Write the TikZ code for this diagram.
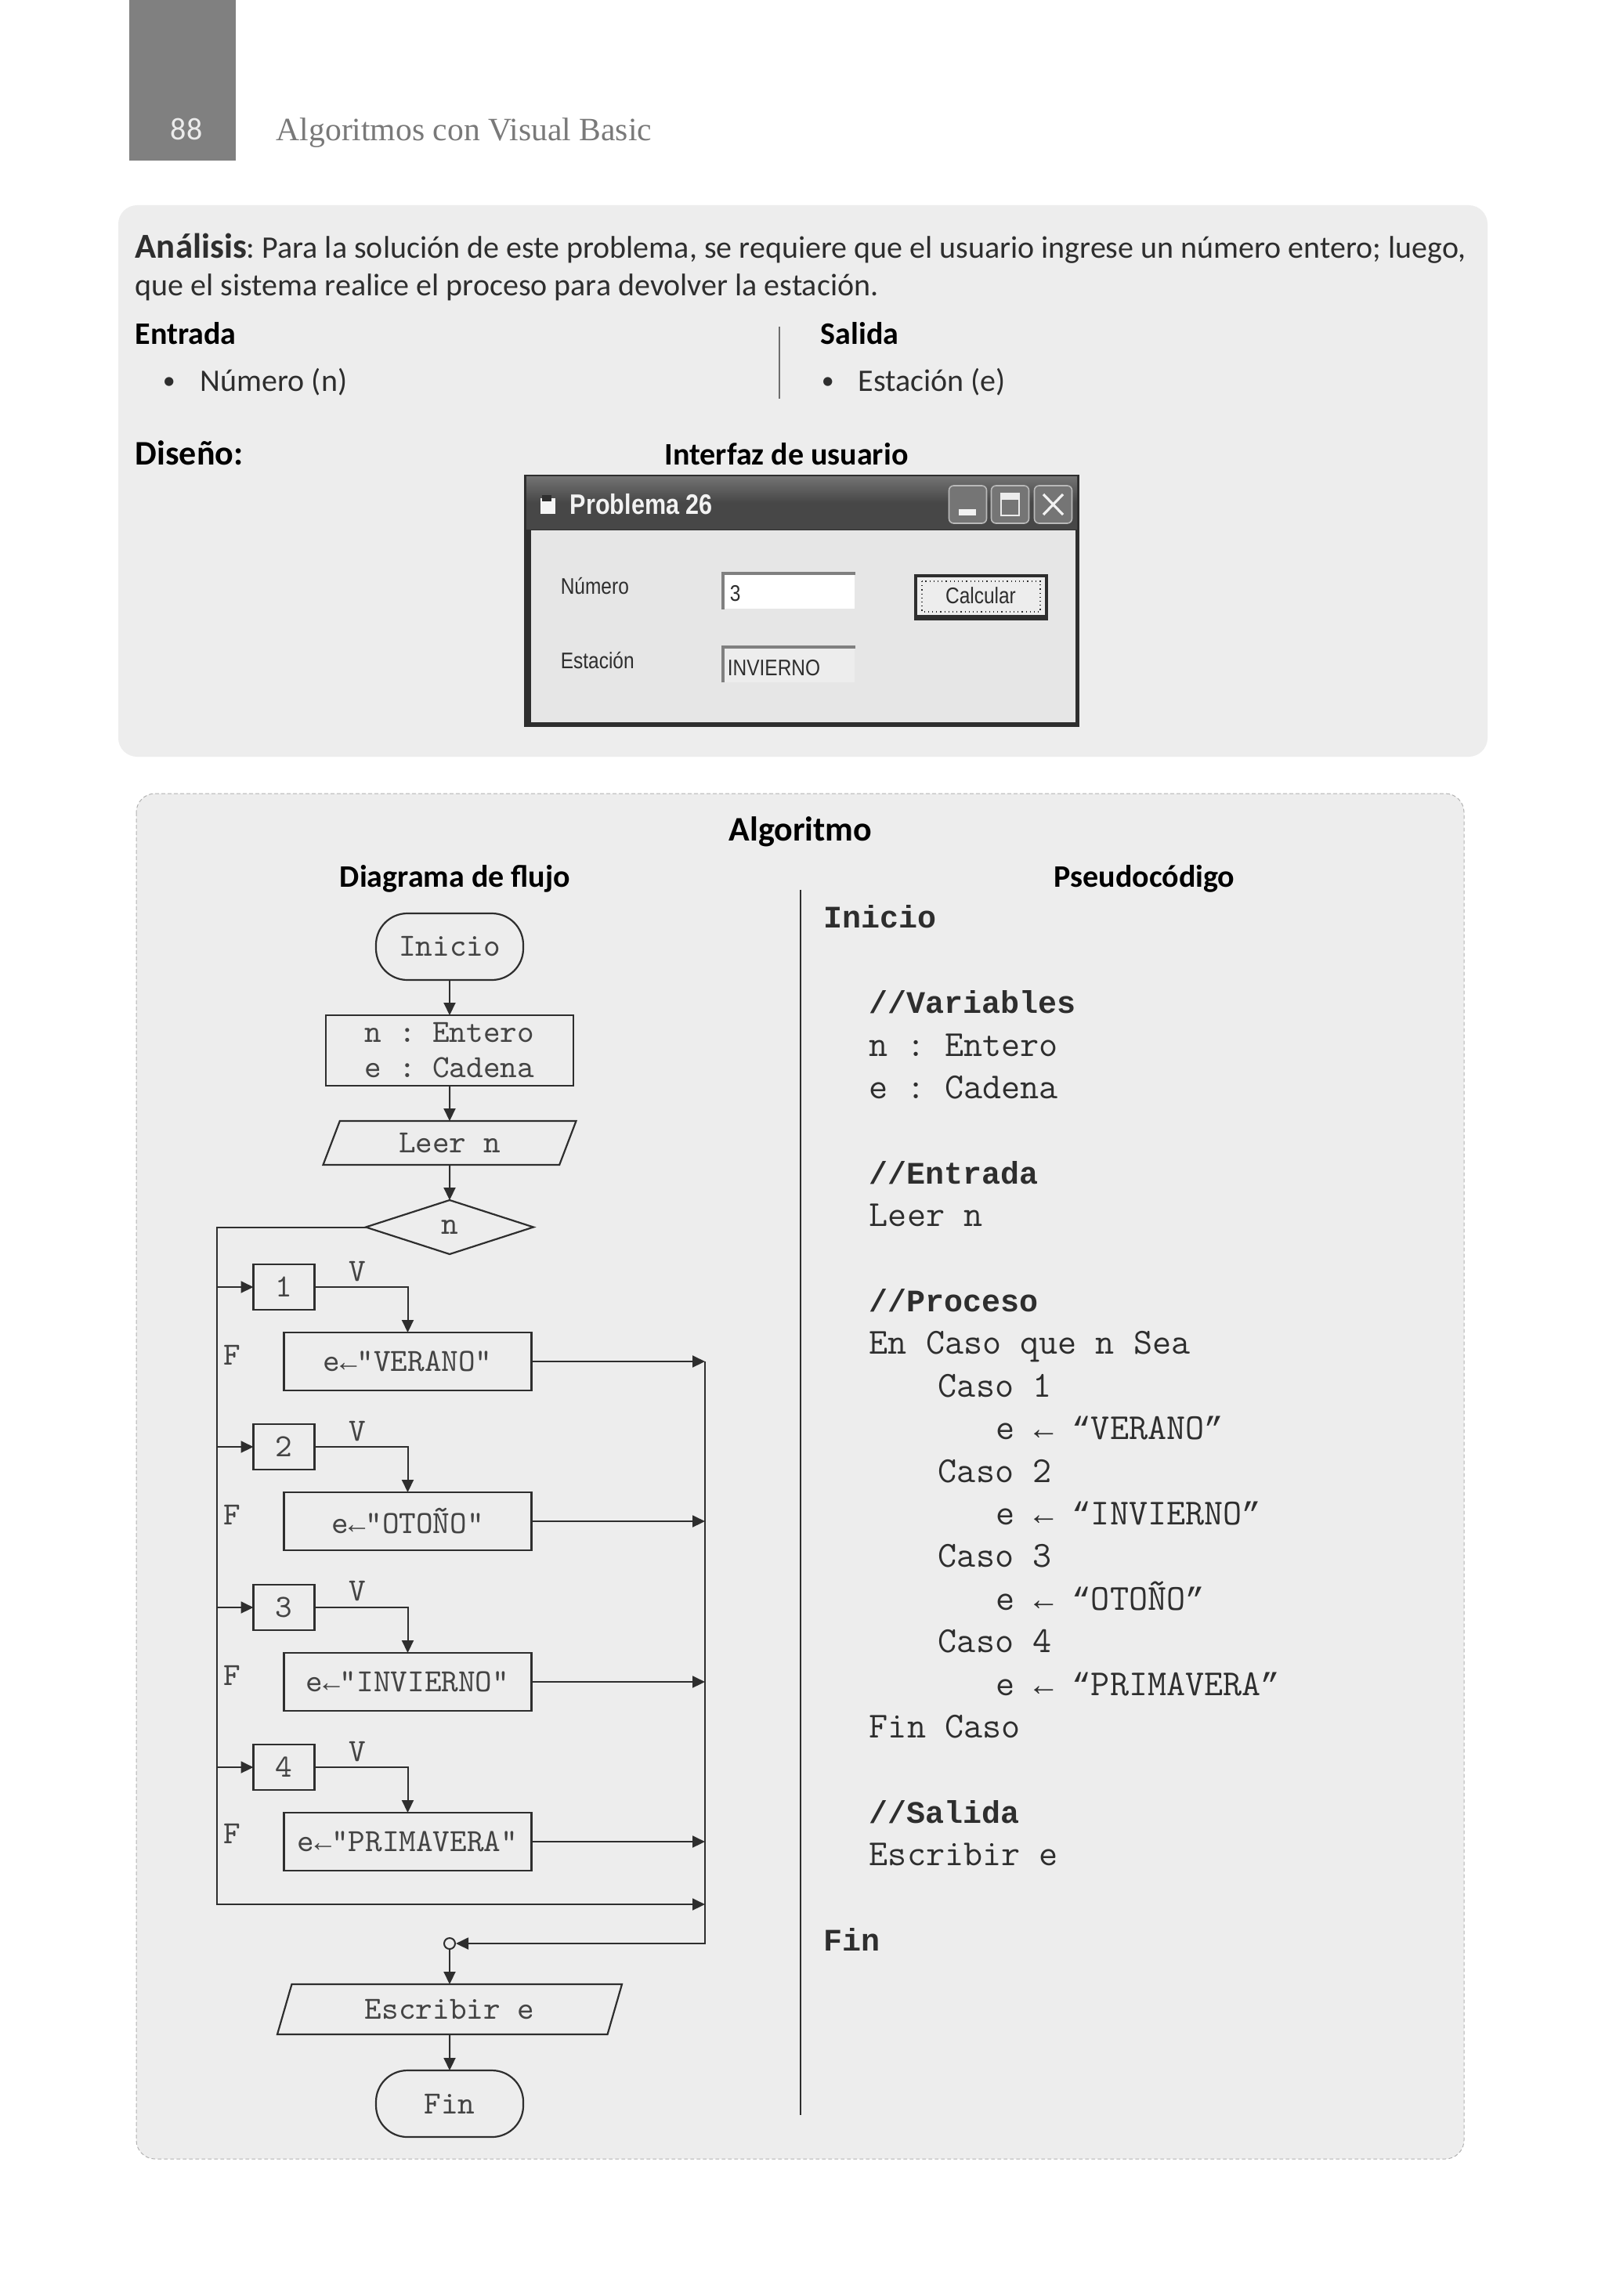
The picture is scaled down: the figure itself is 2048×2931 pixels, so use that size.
\documentclass[tikz,border=0pt]{standalone}
\usepackage{fontspec}
\usepackage{xcolor}
\usepackage{tikz}
\usetikzlibrary{arrows.meta,positioning,shapes.geometric}
\setmainfont{Carlito}
\newfontfamily\arrowfont[Scale=0.87]{Liberation Mono}
\newfontfamily\boldcode[Scale=0.855]{Liberation Mono}
\newfontfamily\headfont{Liberation Serif}
\newfontfamily\winfont[FakeStretch=0.85]{Liberation Sans}
\newcommand{\asig}{{\arrowfont ←}}
\newcommand{\quoted}[1]{{\arrowfont “}#1{\arrowfont ”}}
\newcommand{\codebold}[1]{{\boldcode\bfseries #1}}
\definecolor{panelbg}{HTML}{EDEDED}
\definecolor{barbg}{HTML}{808080}
\definecolor{ink}{HTML}{2E2E2E}
\definecolor{flowtext}{HTML}{444444}
\definecolor{titledark}{HTML}{474747}
\definecolor{clientbg}{HTML}{E6E6E6}

\begin{document}
\frenchspacing
\begin{tikzpicture}[
  x=0.25pt, y=-0.25pt,
  node distance=11.25pt,
  bodytext/.style={inner sep=0pt, anchor=base west, text=ink, font=\fontsize{10}{12.3}\selectfont},
  headtext/.style={inner sep=0pt, anchor=base west, text=black, font=\fontsize{10}{12.3}\selectfont\bfseries},
  headmid/.style={headtext, anchor=base},
  flowbox/.style={draw=ink, line width=0.55pt, inner sep=0pt, outer sep=0pt, align=center,
                  text=flowtext, font=\ttfamily\fontsize{10.3}{11.25}\selectfont},
  oval/.style={flowbox, rounded corners=10pt, minimum width=47pt, minimum height=21.25pt},
  slant/.style={flowbox, trapezium, trapezium stretches body=true},
  casebox/.style={flowbox, minimum width=19.5pt, minimum height=14.5pt},
  setbox/.style={flowbox, minimum width=79pt, minimum height=18.5pt},
  tag/.style={inner sep=0pt, text=flowtext, font=\ttfamily\fontsize{10.3}{11}\selectfont},
  arr/.style={-{Triangle[length=4pt,width=3.75pt]}, draw=ink, line width=0.5pt},
  wintext/.style={inner sep=0pt, anchor=base west, text=ink, font=\winfont\fontsize{7.2}{8}\selectfont},
  winbtn/.style={draw=gray!55, line width=0.4pt, rounded corners=1.5pt, fill=titledark!75!white,
                 minimum width=12pt, minimum height=12pt, inner sep=0pt},
  field/.style={inner sep=0pt, minimum width=41.75pt, minimum height=11pt}
]
\useasboundingbox (0,0) rectangle (2048,2931);
\fill[white] (0,0) rectangle (2048,2931);

\fill[barbg] (165,0) rectangle (301,205);
\node[inner sep=0pt, text=white!85!gray, font=\fontsize{10}{12}\selectfont] (pagenum) at (238,165) {88};
\node[inner sep=0pt, anchor=west, text=gray!95!black, font=\headfont\fontsize{10.4}{12}\selectfont] (runhead) at (352,170) {Algoritmos con Visual Basic};

\fill[panelbg, rounded corners=6pt] (151,262) rectangle (1899,966);
\node[bodytext] (analisis) at (172,330) {\fontsize{11.2}{12.3}\selectfont\textbf{Análisis}\fontsize{10}{12.3}\selectfont: Para la solución de este problema, se requiere que el usuario ingrese un número entero; luego,};
\node[bodytext] (analisis2) at (172,378) {que el sistema realice el proceso para devolver la estación.};
\node[headtext] (entrada) at (172,440) {Entrada};
\node[headtext] (salida) at (1047,440) {Salida};
\draw[ink!70, line width=0.3pt] (995,417) -- (995,509);
\node[bodytext, font=\fontsize{8}{10}\selectfont] (bul1) at (207,497) {•};
\node[bodytext] (numero) at (255,499) {Número (n)};
\node[bodytext, font=\fontsize{8}{10}\selectfont] (bul2) at (1048,497) {•};
\node[bodytext] (estacion) at (1095,499) {Estación (e)};
\node[headtext, font=\fontsize{11}{13}\selectfont\bfseries] (diseno) at (172,593) {Diseño:};
\node[headmid] (interfaz) at (1004,593) {Interfaz de usuario};

\fill[ink] (669,606) rectangle (1378,928);
\shade[top color=gray!90!black, bottom color=titledark, middle color=titledark] (672,608) rectangle (1375,675);
\fill[clientbg] (678,677) rectangle (1373,922);
\fill[white!92!gray] (690,636) rectangle (709,656);
\fill[ink] (692,632) rectangle (704,640);
\node[inner sep=0pt, anchor=base west, text=white!90!gray, font=\winfont\bfseries\fontsize{9}{10}\selectfont] (wintitle) at (727,656) {Problema 26};
\node[winbtn] (btnmin) at (1235.5,644) {};
\node[winbtn] (btnmax) at (1289.5,644) {};
\node[winbtn] (btnclose) at (1344.5,644) {};
\fill[white!90!gray] (1224,650) rectangle (1246,658);
\draw[white!85!gray, line width=0.5pt] (1278,630) rectangle (1301,658);
\fill[white!85!gray] (1278,630) rectangle (1301,638);
\draw[white!90!gray, line width=0.8pt] (1332,631) -- (1357,657) (1357,631) -- (1332,657);

\node[wintext] (lblnumero) at (715,758) {Número};
\node[wintext] (lblestacion) at (715,853) {Estación};
\node[field, fill=white] (fieldn) at (1007.5,755) {};
\node[field, fill=panelbg] (fielde) at (1007.5,848.5) {};
\draw[gray, line width=1pt] (fieldn.south west) -- (fieldn.north west) -- (fieldn.north east);
\draw[gray, line width=1pt] (fielde.south west) -- (fielde.north west) -- (fielde.north east);
\node[wintext] (valn) at (931,767) {3};
\node[wintext] (vale) at (928,862) {INVIERNO};
\fill[ink] (1167,733) rectangle (1338,792);
\fill[panelbg] (1171,737) rectangle (1334,785);
\draw[ink, line width=0.3pt, densely dotted] (1177,742) rectangle (1328,781);
\node[wintext, anchor=base] (calcular) at (1252,770) {Calcular};

\fill[panelbg, rounded corners=6pt] (174,1013) rectangle (1869,2756);
\draw[gray!60, line width=0.25pt, dash pattern=on 1.2pt off 0.8pt, rounded corners=6pt] (174,1013) rectangle (1869,2756);
\node[headmid, font=\fontsize{11}{13}\selectfont\bfseries] (algoritmo) at (1022,1073) {Algoritmo};
\node[headmid] (diagrama) at (581,1132) {Diagrama de flujo};
\node[headmid] (pseudo) at (1461,1132) {Pseudocódigo};
\draw[ink, line width=0.4pt] (1022,1136) -- (1022,2700);

\node[oval] (inicio) at (574,1208.5) {Inicio};
\node[flowbox, below=of inicio, minimum width=79pt, minimum height=22.5pt] (vars) {n : Entero\\e : Cadena};
\node[slant, below=of vars, minimum width=80.75pt, minimum height=14pt, trapezium left angle=50, trapezium right angle=130] (leer) {Leer n};
\node[flowbox, diamond, below=of leer, aspect=3.1, minimum width=53.5pt, minimum height=17.25pt] (sw) {n};

\node[casebox] (c1) at (362.5,1643) {1};
\node[casebox] (c2) at (362.5,1847) {2};
\node[casebox] (c3) at (362.5,2052) {3};
\node[casebox] (c4) at (362.5,2256) {4};
\node[setbox] (e1) at (520.5,1738) {e\asig"VERANO"};
\node[setbox] (e2) at (520.5,1942) {e\asig"OTOÑO"};
\node[setbox] (e3) at (520.5,2147) {e\asig"INVIERNO"};
\node[setbox] (e4) at (520.5,2351) {e\asig"PRIMAVERA"};
\node[tag] (v1) at (456,1623) {V};
\node[tag] (v2) at (456,1827) {V};
\node[tag] (v3) at (456,2031) {V};
\node[tag] (v4) at (456,2236) {V};
\node[tag] (f1) at (296,1730) {F};
\node[tag] (f2) at (296,1934) {F};
\node[tag] (f3) at (296,2139) {F};
\node[tag] (f4) at (296,2341) {F};

\coordinate (busl) at (277,2431);
\coordinate (busr) at (900,2431);
\node[draw=ink, fill=panelbg, circle, line width=0.5pt, minimum size=3.5pt, inner sep=0pt] (jn) at (574,2481) {};
\node[slant, minimum width=110pt, minimum height=16pt, trapezium left angle=54, trapezium right angle=126] (esc) at (574,2565) {Escribir e};
\node[oval, below=11.5pt of esc] (fin) {Fin};

\draw[arr] (inicio) -- (vars);
\draw[arr] (vars) -- (leer);
\draw[arr] (leer) -- (sw);
\draw[arr] (sw.west) -| (busl) -- (busr);
\draw[arr] (c1 -| busl) -- (c1);
\draw[arr] (c2 -| busl) -- (c2);
\draw[arr] (c3 -| busl) -- (c3);
\draw[arr] (c4 -| busl) -- (c4);
\draw[arr] (c1.east) -| (e1.north);
\draw[arr] (c2.east) -| (e2.north);
\draw[arr] (c3.east) -| (e3.north);
\draw[arr] (c4.east) -| (e4.north);
\draw[arr] (e1.east) -- (e1 -| busr);
\draw[arr] (e2.east) -- (e2 -| busr);
\draw[arr] (e3.east) -- (e3 -| busr);
\draw[arr] (e4.east) -- (e4 -| busr);
\draw[arr] (e1 -| busr) |- (jn);
\draw[arr] (jn) -- (esc);
\draw[arr] (esc) -- (fin);

\node[inner sep=0pt, anchor=north west, align=left, text=ink, font=\ttfamily\fontsize{11.7}{13.6}\selectfont] (code) at (1051,1155) {%
\codebold{Inicio}\\
\mbox{}\\
\hspace*{14.5pt}\codebold{//Variables}\\
\hspace*{14.5pt}n : Entero\\
\hspace*{14.5pt}e : Cadena\\
\mbox{}\\
\hspace*{14.5pt}\codebold{//Entrada}\\
\hspace*{14.5pt}Leer n\\
\mbox{}\\
\hspace*{14.5pt}\codebold{//Proceso}\\
\hspace*{14.5pt}En Caso que n Sea\\
\hspace*{36.5pt}Caso 1\\
\hspace*{55pt}e \asig{} \quoted{VERANO}\\
\hspace*{36.5pt}Caso 2\\
\hspace*{55pt}e \asig{} \quoted{INVIERNO}\\
\hspace*{36.5pt}Caso 3\\
\hspace*{55pt}e \asig{} \quoted{OTOÑO}\\
\hspace*{36.5pt}Caso 4\\
\hspace*{55pt}e \asig{} \quoted{PRIMAVERA}\\
\hspace*{14.5pt}Fin Caso\\
\mbox{}\\
\hspace*{14.5pt}\codebold{//Salida}\\
\hspace*{14.5pt}Escribir e\\
\mbox{}\\
\codebold{Fin}};
\end{tikzpicture}
\end{document}
